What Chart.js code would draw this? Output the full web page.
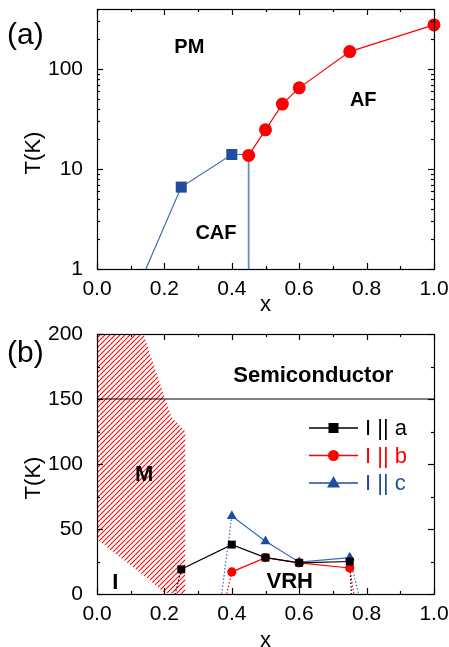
<!DOCTYPE html>
<html>
<head>
<meta charset="UTF-8">
<title>phase diagram</title>
<script src="https://cdn.jsdelivr.net/npm/chart.js"></script>
<style>
  html, body { margin: 0; padding: 0; background: #fff; }
  #wrap { position: relative; width: 449px; height: 647px; }
  canvas { position: absolute; left: 0; }
  #ca { top: 0; }
  #cb { top: 320px; }
</style>
</head>
<body>
<div id="wrap">
  <canvas id="ca" width="449" height="320"></canvas>
  <canvas id="cb" width="449" height="327"></canvas>
</div>
<script>
// ---- data, panel (a) ----
const cafX = [0.25, 0.4];            // blue squares
const cafT = [6.6, 14];
const cafEdgeX = [0.145, 0.25, 0.4, 0.45];
const cafEdgeT = [1, 6.6, 14, 14];
const wallX = [0.45, 0.45];           // vertical CAF/AF boundary
const wallT = [14, 1];
const afX = [0.45, 0.5, 0.55, 0.6, 0.75, 1.0];   // red circles
const afT = [13.7, 24.7, 44.7, 65, 150, 277];

// ---- data, panel (b) ----
const aX = [0.25, 0.4, 0.5, 0.6, 0.75];
const aT = [19, 38, 28, 24, 25];
const bX = [0.4, 0.5, 0.6, 0.75];
const bT = [17, 28, 24, 20];
const cX = [0.4, 0.5, 0.6, 0.75];
const cT = [60, 40.5, 24.5, 28];
// dotted drops to zero
const aDrop = [[[0.25, 19], [0.232, 0]], [[0.75, 25], [0.755, 0]]];
const bDrop = [[[0.4, 17], [0.385, 0]], [[0.75, 20], [0.762, 0]]];
const cDrop = [[[0.4, 60], [0.37, 0]], [[0.75, 28], [0.776, 0]]];
// hatched metallic region
const mX = [0, 0.138, 0.2, 0.222, 0.262, 0.262, 0.2, 0.15, 0.07, 0];
const mT = [200, 200, 152, 136, 125, 0, 1, 12, 28, 42];
const semiX = [0, 1];
const semiT = [150, 150];

// ---- ticks ----
const xTicks = [0, 0.2, 0.4, 0.6, 0.8, 1.0];
const xTickLabels = ['0.0', '0.2', '0.4', '0.6', '0.8', '1.0'];
const xMinor = [0.1, 0.3, 0.5, 0.7, 0.9];
const yTicksA = [1, 10, 100];
const yTickLabelsA = ['1', '10', '100'];
const yMinorA = [2, 3, 4, 5, 6, 7, 8, 9, 20, 30, 40, 50, 60, 70, 80, 90, 200, 300, 400];
const yTicksB = [0, 50, 100, 150, 200];
const yTickLabelsB = ['0', '50', '100', '150', '200'];
const yMinorB = [25, 75, 125, 175];

const FONT = '"Liberation Sans", Arial, Helvetica, sans-serif';
const RED = '#ff0000';
const BLUE = '#1f4e9e';
const BLUE_LINE = '#3f67b4';

const pts = (xs, ys) => xs.map((x, i) => ({x: x, y: ys[i]}));
const pairs = p => p.map(q => ({x: q[0], y: q[1]}));

// hatch pattern for region M
function hatch() {
  const s = 5;
  const c = document.createElement('canvas');
  c.width = s; c.height = s;
  const g = c.getContext('2d');
  g.strokeStyle = RED;
  g.lineWidth = 1.1;
  for (const o of [-s, 0, s]) {
    g.beginPath();
    g.moveTo(o, s);
    g.lineTo(o + s, 0);
    g.stroke();
  }
  return g.createPattern(c, 'repeat');
}

// frame, inward ticks, texts and legend
const decor = {
  id: 'decor',
  afterDraw(chart, args, o) {
    const {ctx, chartArea: a, scales: {x, y}} = chart;
    ctx.save();
    ctx.strokeStyle = '#000';
    ctx.lineWidth = 1.2;
    const seg = (x1, y1, x2, y2) => { ctx.beginPath(); ctx.moveTo(x1, y1); ctx.lineTo(x2, y2); ctx.stroke(); };
    const xt = (vals, len) => vals.forEach(v => {
      const px = Math.round(x.getPixelForValue(v)) + 0.5;
      seg(px, a.bottom, px, a.bottom - len);
      seg(px, a.top, px, a.top + len);
    });
    const yt = (vals, len) => vals.forEach(v => {
      const py = Math.round(y.getPixelForValue(v)) + 0.5;
      seg(a.left, py, a.left + len, py);
      seg(a.right, py, a.right - len, py);
    });
    xt(o.xMajor, 6); xt(o.xMinor, 3);
    yt(o.yMajor, 6); yt(o.yMinor, 3);
    ctx.strokeRect(Math.round(a.left) + 0.5, Math.round(a.top) + 0.5,
      Math.round(a.right - a.left), Math.round(a.bottom - a.top));

    ctx.fillStyle = '#000';
    ctx.textAlign = 'center';
    ctx.textBaseline = 'middle';
    o.texts.forEach(t => {
      ctx.font = 'bold ' + t.size + 'px ' + FONT;
      ctx.fillText(t.text, x.getPixelForValue(t.x), y.getPixelForValue(t.y));
    });

    // axis titles
    ctx.font = '22px ' + FONT;
    ctx.textBaseline = 'alphabetic';
    ctx.fillText('x', (a.left + a.right) / 2, o.xTitleY);
    ctx.save();
    ctx.translate(34, o.yTitleY);
    ctx.rotate(-Math.PI / 2);
    ctx.textBaseline = 'middle';
    ctx.fillText('T(K)', 0, 0);
    ctx.restore();

    // panel tag
    ctx.font = '30px ' + FONT;
    ctx.textAlign = 'left';
    ctx.textBaseline = 'middle';
    ctx.fillText(o.tag, 7, o.tagY);

    if (o.legend) {
      const L = o.legend;
      L.items.forEach((it, i) => {
        const ly = L.y + i * L.gap;
        ctx.strokeStyle = it.color;
        ctx.lineWidth = 1.3;
        seg(L.x, ly, L.x + 49, ly);
        ctx.fillStyle = it.color;
        const cx = L.x + 24.5;
        ctx.beginPath();
        if (it.style === 'rect') ctx.rect(cx - 5, ly - 5, 10, 10);
        else if (it.style === 'circle') ctx.arc(cx, ly, 5.5, 0, Math.PI * 2);
        else { ctx.moveTo(cx, ly - 7); ctx.lineTo(cx + 6.5, ly + 4.5); ctx.lineTo(cx - 6.5, ly + 4.5); ctx.closePath(); }
        ctx.fill();
        ctx.font = '22px ' + FONT;
        ctx.textAlign = 'left';
        ctx.fillText(it.label, L.x + 56, ly + 1);
      });
    }
    ctx.restore();
  }
};

function noPad(s) {
  s.paddingTop = 0; s.paddingBottom = 0; s.paddingLeft = 0; s.paddingRight = 0;
}

function xScale(h) {
  return {
    type: 'linear', min: 0, max: 1,
    grid: {display: false}, border: {display: false},
    afterBuildTicks: s => { s.ticks = xTicks.map(v => ({value: v})); },
    afterFit: s => { s.height = h; noPad(s); },
    ticks: {
      autoSkip: false, maxRotation: 0, padding: 0, color: '#000',
      font: {family: FONT, size: 21},
      callback: (v, i) => xTickLabels[i]
    }
  };
}

function line(data, color, width, extra) {
  return Object.assign({
    data: data, borderColor: color, backgroundColor: color,
    borderWidth: width, pointRadius: 0, fill: false, tension: 0
  }, extra || {});
}

Chart.defaults.animation = false;

// ---- panel (a) ----
new Chart(document.getElementById('ca'), {
  type: 'line',
  data: {
    datasets: [
      line(pts(afX, afT), RED, 1.2, {pointRadius: 6.5, pointBorderWidth: 0, pointBackgroundColor: RED, clip: false}),
      line(pts(cafX, cafT), BLUE, 0, {showLine: false, pointStyle: 'rect', pointRadius: 7.8, pointBorderWidth: 0, pointBackgroundColor: BLUE}),
      line(pts(cafEdgeX, cafEdgeT), BLUE_LINE, 1.2),
      line(pts(wallX, wallT), '#6a8bc6', 1.8)
    ]
  },
  options: {
    responsive: false,
    layout: {padding: {top: 9, right: 15, left: 0, bottom: 0}},
    plugins: {
      legend: {display: false}, tooltip: {enabled: false},
      decor: {
        xMajor: xTicks, xMinor: xMinor, yMajor: yTicksA, yMinor: yMinorA,
        texts: [
          {text: 'PM', x: 0.274, y: 166, size: 20},
          {text: 'AF', x: 0.79, y: 49, size: 20},
          {text: 'CAF', x: 0.353, y: 2.29, size: 20}
        ],
        xTitleY: 311, yTitleY: 153, tag: '(a)', tagY: 36
      }
    },
    scales: {
      x: xScale(51),
      y: {
        type: 'logarithmic', min: 1, max: 400,
        grid: {display: false}, border: {display: false},
        afterBuildTicks: s => { s.ticks = yTicksA.map(v => ({value: v})); },
        afterFit: s => { s.width = 97; noPad(s); },
        ticks: {padding: 6, color: '#000', font: {family: FONT, size: 21},
          callback: (v, i) => yTickLabelsA[i]}
      }
    }
  },
  plugins: [decor]
});

// ---- panel (b) ----
const dotted = {borderDash: [1.5, 2]};
const bds = [
  line(pts(aX, aT), '#000', 1.2, {pointStyle: 'rect', pointRadius: 5.6, pointBorderWidth: 0, pointBackgroundColor: '#000', order: 1}),
  line(pts(bX, bT), RED, 1.2, {pointRadius: 4.6, pointBorderWidth: 0, pointBackgroundColor: RED, order: 2}),
  line(pts(cX, cT), BLUE_LINE, 1.2, {pointStyle: 'triangle', pointRadius: 5.8, pointBorderWidth: 0, pointBackgroundColor: BLUE, order: 3}),
  line(pts(semiX, semiT), '#000', 1.2, {order: 5}),
  line(pts(mX, mT), RED, 0, {fill: 'shape', backgroundColor: hatch(), order: 10})
];
aDrop.forEach(d => bds.push(line(pairs(d), '#000', 1.2, Object.assign({order: 4}, dotted))));
bDrop.forEach(d => bds.push(line(pairs(d), RED, 1.2, Object.assign({order: 4}, dotted))));
cDrop.forEach(d => bds.push(line(pairs(d), BLUE_LINE, 1.2, Object.assign({order: 4}, dotted))));

new Chart(document.getElementById('cb'), {
  type: 'line',
  data: {datasets: bds},
  options: {
    responsive: false,
    layout: {padding: {top: 14, right: 15, left: 0, bottom: 0}},
    plugins: {
      legend: {display: false}, tooltip: {enabled: false},
      decor: {
        xMajor: xTicks, xMinor: xMinor, yMajor: yTicksB, yMinor: yMinorB,
        texts: [
          {text: 'Semiconductor', x: 0.642, y: 168, size: 22},
          {text: 'M', x: 0.14, y: 91.5, size: 22},
          {text: 'VRH', x: 0.572, y: 9.2, size: 22},
          {text: 'I', x: 0.054, y: 8.5, size: 22}
        ],
        xTitleY: 327, yTitleY: 158, tag: '(b)', tagY: 34,
        legend: {
          x: 309, y: 108, gap: 27.5,
          items: [
            {label: 'I || a', color: '#000', style: 'rect'},
            {label: 'I || b', color: RED, style: 'circle'},
            {label: 'I || c', color: BLUE, style: 'triangle'}
          ]
        }
      }
    },
    scales: {
      x: xScale(53),
      y: {
        type: 'linear', min: 0, max: 200,
        grid: {display: false}, border: {display: false},
        afterBuildTicks: s => { s.ticks = yTicksB.map(v => ({value: v})); },
        afterFit: s => { s.width = 97; noPad(s); },
        ticks: {padding: 6, color: '#000', font: {family: FONT, size: 21},
          callback: (v, i) => yTickLabelsB[i]}
      }
    }
  },
  plugins: [decor]
});
</script>
</body>
</html>
